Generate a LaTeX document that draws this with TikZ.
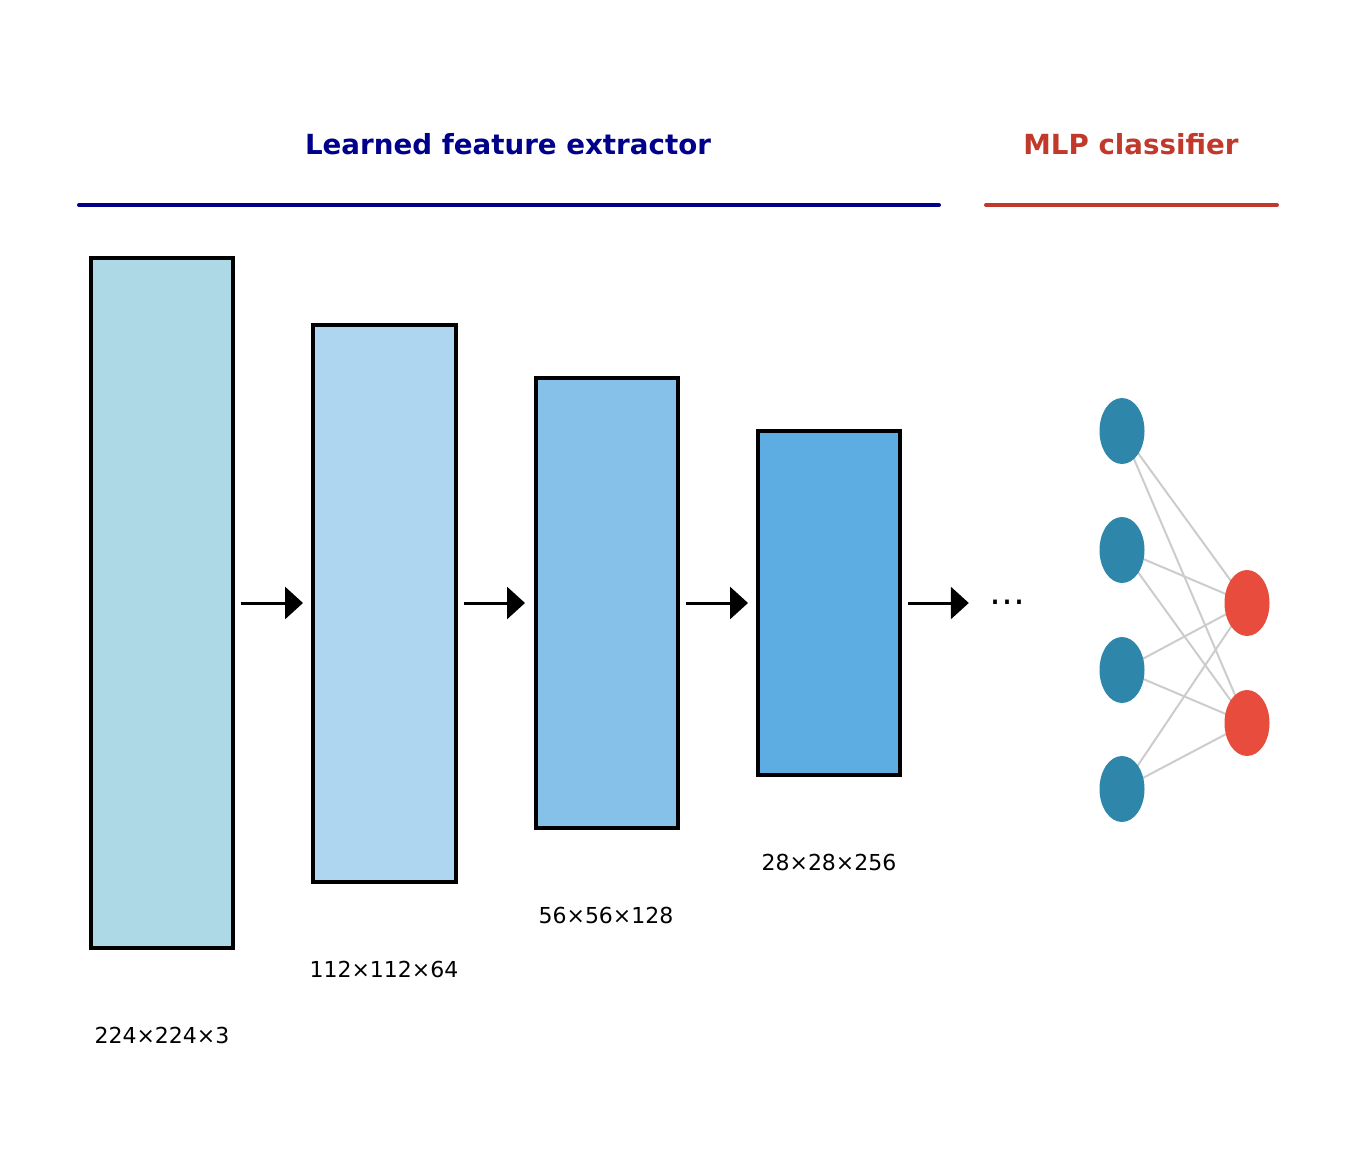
\documentclass[tikz,border=0pt]{standalone}
\usepackage{fontspec}
\setmainfont{DejaVu Sans}
\usetikzlibrary{arrows.meta,shapes.geometric}
\definecolor{navyc}{HTML}{00008B}
\definecolor{redc}{HTML}{C0392B}
\definecolor{cA}{HTML}{ADD8E6}
\definecolor{cB}{HTML}{AED6F1}
\definecolor{cC}{HTML}{85C1E9}
\definecolor{cD}{HTML}{5DADE2}
\definecolor{inc}{HTML}{2E86AB}
\definecolor{outc}{HTML}{E74C3C}
\definecolor{edgec}{HTML}{CCCCCC}
\tikzset{
  fmap/.style={draw=black, line width=4pt, inner sep=0pt, outer sep=0pt},
  dimlabel/.style={font=\fontsize{22}{26}\selectfont, inner sep=0pt},
  title/.style={font=\fontsize{27.7}{32}\selectfont\bfseries, inner sep=0pt},
  flow/.style={line width=3pt, -{Triangle[length=18pt,width=32pt]}},
  neuron/.style={ellipse, minimum width=45pt, minimum height=66pt, inner sep=0pt, outer sep=0pt},
  wire/.style={draw=edgec, line width=2pt},
}
\begin{document}
\begin{tikzpicture}[x=1pt,y=-1pt]
\useasboundingbox (0,0) rectangle (1355,1155);
% titles
\node[title, text=navyc] (t1) at (508,144) {Learned feature extractor};
\node[title, text=redc] (t2) at (1131,144) {MLP classifier};
\coordinate (n1a) at (79,205);
\coordinate (n1b) at (939,205);
\coordinate (r1a) at (986,205);
\coordinate (r1b) at (1277,205);
\draw[navyc, line width=4pt, line cap=round] (n1a) -- (n1b);
\draw[redc, line width=4pt, line cap=round] (r1a) -- (r1b);
% feature maps
\node[fmap, fill=cA, minimum width=142pt, minimum height=690pt] (b1) at (162,603) {};
\node[fmap, fill=cB, minimum width=143pt, minimum height=557pt] (b2) at (384.5,603.5) {};
\node[fmap, fill=cC, minimum width=142pt, minimum height=450pt] (b3) at (607,603) {};
\node[fmap, fill=cD, minimum width=142pt, minimum height=344pt] (b4) at (829,603) {};
\node[dimlabel] (l1) at (162,1035) {224×224×3};
\node[dimlabel] (l2) at (384,969) {112×112×64};
\node[dimlabel] (l3) at (606,915) {56×56×128};
\node[dimlabel] (l4) at (829,862) {28×28×256};
\node[font=\fontsize{36}{40}\selectfont, inner sep=0pt] (dots) at (1007,607) {⋯};
% arrows
\coordinate (a1s) at (b1.east |- 0,603);
\draw[flow, shorten <=8pt, shorten >=10pt] (b1.east |- 0,603) -- (b2.west |- 0,603);
\draw[flow, shorten <=8pt, shorten >=11pt] (b2.east |- 0,603) -- (b3.west |- 0,603);
\draw[flow, shorten <=8pt, shorten >=10pt] (b3.east |- 0,603) -- (b4.west |- 0,603);
\draw[flow, shorten <=8pt, shorten >=20pt] (b4.east |- 0,603) -- (dots.west |- 0,603);
% MLP
\node[neuron] (i1) at (1122,431) {};
\node[neuron] (i2) at (1122,550) {};
\node[neuron] (i3) at (1122,670) {};
\node[neuron] (i4) at (1122,789) {};
\node[neuron] (o1) at (1247,603) {};
\node[neuron] (o2) at (1247,723) {};
\foreach \i in {i1,i2,i3,i4}{
  \foreach \o in {o1,o2}{
    \draw[wire] (\i.center) -- (\o.center);
  }
}
\foreach \i in {i1,i2,i3,i4}{ \fill[inc] (\i.center) ellipse [x radius=22.5pt, y radius=33pt]; }
\foreach \o in {o1,o2}{ \fill[outc] (\o.center) ellipse [x radius=22.5pt, y radius=33pt]; }
\end{tikzpicture}
\end{document}
